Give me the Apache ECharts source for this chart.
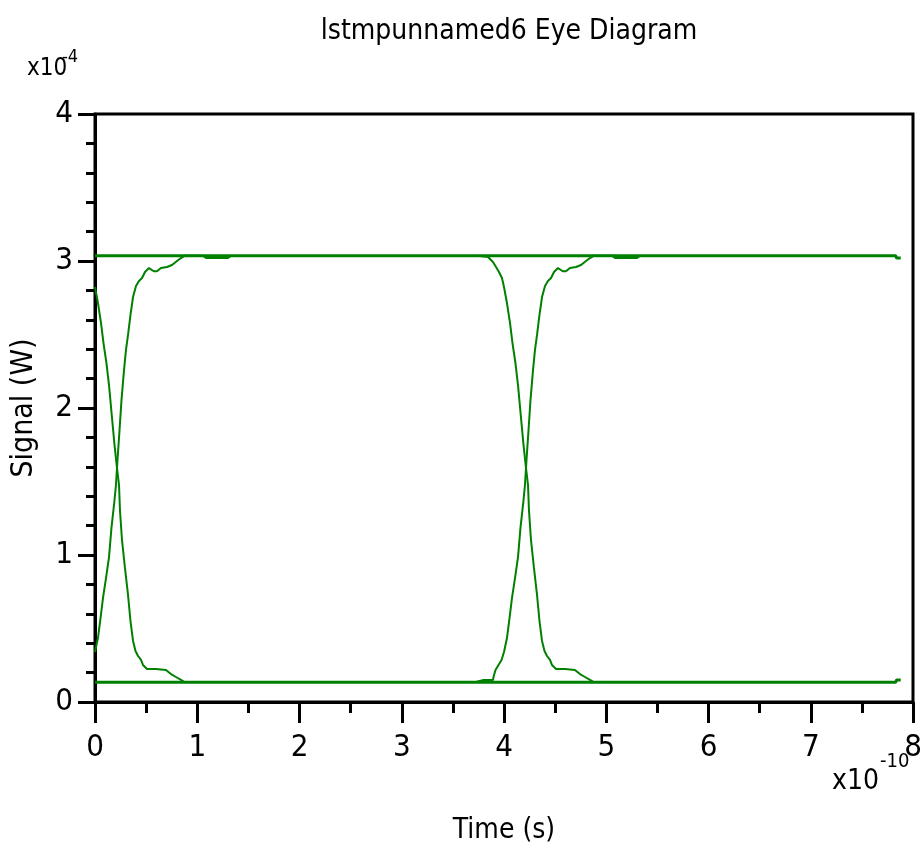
<!DOCTYPE html>
<html>
<head>
<meta charset="utf-8">
<script src="https://cdn.jsdelivr.net/npm/echarts@6/dist/echarts.min.js"></script>
<style>html,body{margin:0;padding:0;background:#fff;}#chart{width:921px;height:849px;}</style>
</head>
<body>
<div id="chart"></div>
<script>
// Time in units of 1e-10 s, signal in units of 1e-4 W
var xTicks = [0, 1, 2, 3, 4, 5, 6, 7, 8];
var yTicks = [0, 1, 2, 3, 4];

var topLevel = [[0, 3.036], [7.83, 3.036], [7.84, 3.020], [7.88, 3.020]];
var bottomLevel = [[0, 0.134], [7.83, 0.134], [7.84, 0.150], [7.88, 0.150]];

var falling1 = [[0.000,2.823],[0.029,2.714],[0.059,2.578],[0.083,2.442],[0.112,2.306],[0.137,2.156],[0.161,1.973],[0.191,1.748],[0.215,1.592],[0.235,1.476],[0.244,1.306],[0.264,1.102],[0.293,0.912],[0.323,0.728],[0.347,0.551],[0.372,0.415],[0.396,0.347],[0.421,0.313],[0.450,0.286],[0.469,0.252],[0.509,0.224],[0.597,0.224],[0.694,0.218],[0.743,0.190],[0.792,0.170],[0.841,0.150],[0.880,0.134]];

var rising1 = [[0.000,0.340],[0.029,0.435],[0.054,0.571],[0.078,0.707],[0.108,0.844],[0.137,0.986],[0.161,1.184],[0.191,1.374],[0.205,1.476],[0.220,1.646],[0.240,1.850],[0.259,2.054],[0.284,2.259],[0.303,2.395],[0.323,2.497],[0.347,2.633],[0.372,2.755],[0.401,2.830],[0.430,2.864],[0.460,2.884],[0.489,2.925],[0.528,2.952],[0.575,2.930],[0.606,2.930],[0.645,2.952],[0.704,2.959],[0.753,2.973],[0.802,3.000],[0.841,3.020],[0.880,3.036],[1.056,3.036],[1.086,3.020],[1.301,3.020],[1.330,3.036]];

var falling2 = [[3.746,3.036],[3.844,3.027],[3.892,2.993],[3.922,2.959],[3.951,2.925],[3.980,2.884],[4.000,2.823],[4.029,2.714],[4.059,2.578],[4.083,2.442],[4.112,2.306],[4.137,2.156],[4.161,1.973],[4.191,1.748],[4.215,1.592],[4.235,1.476],[4.244,1.306],[4.264,1.102],[4.293,0.912],[4.323,0.728],[4.347,0.551],[4.372,0.415],[4.396,0.347],[4.421,0.313],[4.450,0.286],[4.469,0.252],[4.509,0.224],[4.597,0.224],[4.694,0.218],[4.743,0.190],[4.792,0.170],[4.841,0.150],[4.880,0.134]];

var rising2 = [[3.716,0.134],[3.800,0.150],[3.892,0.150],[3.900,0.177],[3.917,0.218],[3.946,0.252],[3.976,0.286],[4.000,0.340],[4.029,0.435],[4.054,0.571],[4.078,0.707],[4.108,0.844],[4.137,0.986],[4.161,1.184],[4.191,1.374],[4.205,1.476],[4.220,1.646],[4.240,1.850],[4.259,2.054],[4.284,2.259],[4.303,2.395],[4.323,2.497],[4.347,2.633],[4.372,2.755],[4.401,2.830],[4.430,2.864],[4.460,2.884],[4.489,2.925],[4.528,2.952],[4.575,2.930],[4.606,2.930],[4.645,2.952],[4.704,2.959],[4.753,2.973],[4.802,3.000],[4.841,3.020],[4.880,3.036],[5.056,3.036],[5.086,3.020],[5.301,3.020],[5.330,3.036]];

var FONT = "'Liberation Sans Narrow', 'DejaVu Sans Condensed', sans-serif";
var GREEN = '#008000';

function trace(data, w) {
  return {
    type: 'line', data: data, showSymbol: false, symbol: 'none', clip: true,
    lineStyle: { color: GREEN, width: w }, silent: true, animation: false
  };
}

var chart = echarts.init(document.getElementById('chart'), null, { renderer: 'canvas' });
chart.setOption({
  animation: false,
  backgroundColor: '#ffffff',
  title: {
    text: 'lstmpunnamed6 Eye Diagram',
    left: 504, top: 13, textAlign: 'center',
    textStyle: { fontFamily: FONT, fontSize: 28, fontWeight: 'normal', color: '#000' }
  },
  grid: {
    left: 95, top: 114, right: 8, bottom: 147,
    outerBoundsMode: 'none', containLabel: false,
    show: true, borderColor: '#000', borderWidth: 3, backgroundColor: 'transparent'
  },
  xAxis: {
    type: 'value', min: xTicks[0], max: xTicks[xTicks.length - 1], interval: 1,
    name: 'Time (s)', nameLocation: 'middle', nameGap: 115,
    nameTextStyle: { fontFamily: FONT, fontSize: 28, color: '#000' },
    axisLine: { show: true, onZero: false, lineStyle: { color: '#000', width: 3 } },
    axisTick: { show: true, inside: false, length: 21, lineStyle: { color: '#000', width: 3 } },
    minorTick: { show: true, splitNumber: 2, length: 11, lineStyle: { color: '#000', width: 3 } },
    axisLabel: { fontFamily: FONT, fontSize: 31, color: '#000', margin: 30 },
    splitLine: { show: false }
  },
  yAxis: {
    type: 'value', min: yTicks[0], max: yTicks[yTicks.length - 1], interval: 1,
    name: 'Signal (W)', nameLocation: 'middle', nameGap: 56, nameRotate: 90,
    nameTextStyle: { fontFamily: FONT, fontSize: 30, color: '#000' },
    axisLine: { show: true, onZero: false, lineStyle: { color: '#000', width: 3 } },
    axisTick: { show: true, inside: false, length: 17, lineStyle: { color: '#000', width: 3 } },
    minorTick: { show: true, splitNumber: 5, length: 9, lineStyle: { color: '#000', width: 3 } },
    axisLabel: { fontFamily: FONT, fontSize: 31, color: '#000', margin: 22 },
    splitLine: { show: false }
  },
  graphic: [
    { type: 'text', left: 27, top: 57, style: { text: 'x10', fontFamily: FONT, fontSize: 24, fill: '#000' } },
    { type: 'text', left: 62, top: 48, style: { text: '-4', fontFamily: FONT, fontSize: 18, fill: '#000' } },
    { type: 'text', left: 832, top: 768, style: { text: 'x10', fontFamily: FONT, fontSize: 28, fill: '#000' } },
    { type: 'text', left: 880, top: 752, style: { text: '-10', fontFamily: FONT, fontSize: 20, fill: '#000' } }
  ],
  series: [
    trace(topLevel, 3),
    trace(bottomLevel, 3),
    trace(falling1, 2),
    trace(rising1, 2),
    trace(falling2, 2),
    trace(rising2, 2)
  ]
});
</script>
</body>
</html>
